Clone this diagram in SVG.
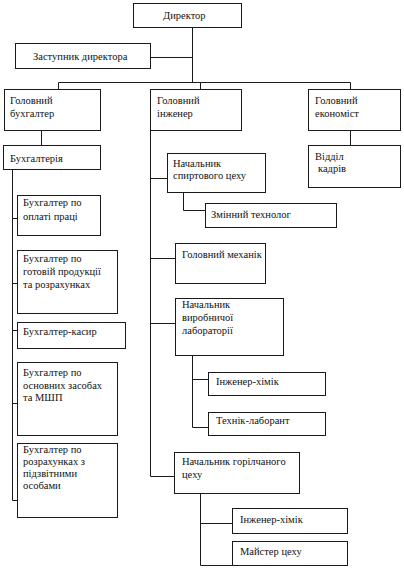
<svg xmlns="http://www.w3.org/2000/svg" width="404" height="571" viewBox="0 0 404 571">
<style>
rect{fill:#fff;stroke:#1a1a1a;stroke-width:1}
.c{fill:none;stroke:#1a1a1a;stroke-width:1}
text{font-family:"Liberation Serif","Times New Roman",serif;font-size:10.5px;fill:#111}
</style>
<rect x="0" y="0" width="404" height="571" style="stroke:none"/>
<g id="connectors" class="c">
<path class="c" d="M192.5 27V82.5M150 57.5H192.5M58.5 89V82.5H350.5V89M200.5 82.5V89"/>
<path class="c" d="M41.5 130V145M350.5 130V145"/>
<path class="c" d="M12.5 169V500.5H17M12.5 218.5H17M12.5 283.5H17M12.5 330.5H17M12.5 403.5H17"/>
<path class="c" d="M150.5 130V476.5H174M150.5 178.5H167M150.5 258.5H175M150.5 323.5H175"/>
<path class="c" d="M183.5 193V210.5H205"/>
<path class="c" d="M192.5 355V427.5H208M192.5 379.5H208"/>
<path class="c" d="M200.5 493V565.5H232M200.5 523.5H232"/>
</g>
<g id="n1"><rect x="133.5" y="3.5" width="108" height="24"/><text x="163" y="19">Директор</text></g>
<g id="n2"><rect x="15.5" y="43.5" width="135" height="25"/><text x="33" y="60">Заступник директора</text></g>
<g id="n3"><rect x="4.5" y="89.5" width="96" height="41"/><text x="10" y="104">Головний</text><text x="10" y="117">бухгалтер</text></g>
<g id="n4"><rect x="150.5" y="89.5" width="91" height="41"/><text x="157" y="104">Головний</text><text x="157" y="117">інженер</text></g>
<g id="n5"><rect x="308.5" y="89.5" width="92" height="41"/><text x="315" y="104">Головний</text><text x="315" y="117">економіст</text></g>
<g id="n6"><rect x="3.5" y="145.5" width="97" height="24"/><text x="10" y="162">Бухгалтерія</text></g>
<g id="n7"><rect x="308.5" y="145.5" width="92" height="42"/><text x="315" y="160">Відділ</text><text x="318" y="172">кадрів</text></g>
<g id="n8"><rect x="167.5" y="153.5" width="98" height="39"/><text x="173" y="167">Начальник</text><text x="173" y="179">спиртового цеху</text></g>
<g id="n9"><rect x="205.5" y="203.5" width="131" height="24"/><text x="211" y="218">Змінний технолог</text></g>
<g id="n10"><rect x="175.5" y="243.5" width="90" height="40"/><text x="182" y="258">Головний механік</text></g>
<g id="n11"><rect x="175.5" y="298.5" width="108" height="57"/><text x="182" y="308">Начальник</text><text x="182" y="321">виробничої</text><text x="182" y="334">лабораторії</text></g>
<g id="n12"><rect x="17.5" y="195.5" width="83" height="40"/><text x="23" y="206">Бухгалтер по</text><text x="23" y="220">оплаті праці</text></g>
<g id="n13"><rect x="17.5" y="250.5" width="100" height="63"/><text x="23" y="262">Бухгалтер по</text><text x="23" y="275">готовій продукції</text><text x="23" y="288">та розрахунках</text></g>
<g id="n14"><rect x="17.5" y="322.5" width="108" height="26"/><text x="23" y="335">Бухгалтер-касир</text></g>
<g id="n15"><rect x="17.5" y="362.5" width="100" height="73"/><text x="23" y="376">Бухгалтер по</text><text x="23" y="389">основних засобах</text><text x="23" y="401">та МШП</text></g>
<g id="n16"><rect x="17.5" y="443.5" width="100" height="74"/><text x="23" y="453">Бухгалтер по</text><text x="23" y="465">розрахунках з</text><text x="23" y="477">підзвітними</text><text x="23" y="489">особами</text></g>
<g id="n17"><rect x="208.5" y="372.5" width="117" height="23"/><text x="216" y="385">Інженер-хімік</text></g>
<g id="n18"><rect x="208.5" y="412.5" width="117" height="23"/><text x="216" y="424">Технік-лаборант</text></g>
<g id="n19"><rect x="174.5" y="452.5" width="125" height="41"/><text x="182" y="465">Начальник горілчаного</text><text x="182" y="478">цеху</text></g>
<g id="n20"><rect x="232.5" y="508.5" width="115" height="25"/><text x="240" y="523">Інженер-хімік</text></g>
<g id="n21"><rect x="232.5" y="541.5" width="115" height="24"/><text x="240" y="555">Майстер цеху</text></g>
</svg>
